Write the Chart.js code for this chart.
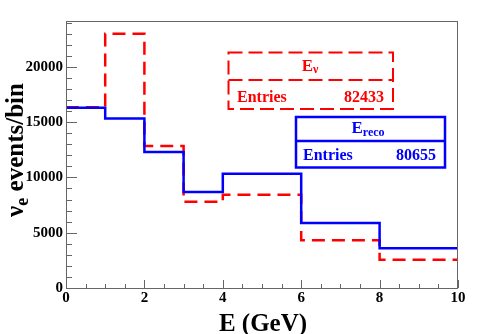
<!DOCTYPE html>
<html>
<head>
<meta charset="utf-8">
<script src="https://cdn.jsdelivr.net/npm/chart.js@4.4.0/dist/chart.umd.min.js"></script>
<style>
html,body{margin:0;padding:0;background:#fff;}
#wrap{width:490px;height:334px;}
</style>
</head>
<body>
<div id="wrap"><canvas id="c" width="490" height="334"></canvas></div>
<script>
// ---- data ----
const binEdges = [0, 1, 2, 3, 4, 6, 8, 10];
const trueEvents = [16350, 23000, 12850, 7800, 8430, 4310, 2560];   // E_nu (red dashed)
const recoEvents = [16300, 15330, 12290, 8680, 10330, 5880, 3590];  // E_reco (blue)
const xTickLabels = [0, 2, 4, 6, 8, 10];
const yTickLabels = [0, 5000, 10000, 15000, 20000];
const trueEntries = "82433";
const recoEntries = "80655";
const yMax = 24150;

function stepPoints(edges, vals) {
  return edges.map((e, i) => ({ x: e, y: vals[Math.min(i, vals.length - 1)] }));
}

const FONT = '"Liberation Serif", "Times New Roman", serif';

const overlay = {
  id: 'overlay',
  afterDraw(chart) {
    const ctx = chart.ctx;
    const a = chart.chartArea;
    const xs = chart.scales.x, ys = chart.scales.y;
    ctx.save();
    // frame
    ctx.strokeStyle = '#666';
    ctx.lineWidth = 1;
    ctx.strokeRect(a.left + 0.5, a.top + 0.5, a.right - a.left - 1, a.bottom - a.top);
    // y ticks (inward)
    ctx.beginPath();
    for (let v = 0; v <= yMax; v += 1000) {
      const y = Math.round(ys.getPixelForValue(v)) + 0.5;
      const len = (v % 5000 === 0) ? 11 : 6;
      ctx.moveTo(a.left, y); ctx.lineTo(a.left + len, y);
    }
    // x ticks (inward)
    for (let v = 0; v <= 10.001; v += 0.5) {
      const x = Math.round(xs.getPixelForValue(v)) + 0.5;
      const len = (Math.abs(v % 2) < 1e-6) ? 8 : 4;
      ctx.moveTo(x, a.bottom); ctx.lineTo(x, a.bottom - len);
    }
    ctx.stroke();

    // x title
    ctx.fillStyle = '#000';
    ctx.font = 'bold 25px ' + FONT;
    ctx.textAlign = 'center';
    ctx.textBaseline = 'alphabetic';
    ctx.fillText('E (GeV)', 263, 331);

    // y title (rotated)
    ctx.save();
    ctx.translate(23, 150);
    ctx.rotate(-Math.PI / 2);
    ctx.textAlign = 'left';
    const mainF = 'bold 25px ' + FONT, subF = 'bold 18px ' + FONT;
    ctx.font = mainF; const wNu = ctx.measureText('ν').width;
    ctx.font = subF; const wE = ctx.measureText('e').width;
    ctx.font = mainF; const wRest = ctx.measureText(' events/bin').width;
    const tot = wNu + wE + wRest;
    let px = -tot / 2;
    ctx.font = mainF; ctx.fillText('ν', px, 0); px += wNu;
    ctx.font = subF; ctx.fillText('e', px, 5); px += wE;
    ctx.font = mainF; ctx.fillText(' events/bin', px, 0);
    ctx.restore();

    // stats boxes
    function box(x1, y1, x2, y2, ydiv, color, dash, lw, sub, tx, tyBase, subDy, entries, ex1, ex2, eBase) {
      ctx.save();
      ctx.fillStyle = '#fff';
      ctx.fillRect(x1, y1, x2 - x1, y2 - y1);
      ctx.strokeStyle = color;
      ctx.lineWidth = lw;
      ctx.setLineDash(dash);
      ctx.strokeRect(x1, y1, x2 - x1, y2 - y1);
      ctx.beginPath(); ctx.moveTo(x1, ydiv); ctx.lineTo(x2, ydiv); ctx.stroke();
      ctx.setLineDash([]);
      ctx.fillStyle = color;
      const tf = 'bold 17px ' + FONT, sf = 'bold 12px ' + FONT;
      ctx.font = tf; const w1 = ctx.measureText('E').width;
      ctx.font = sf; const w2 = ctx.measureText(sub).width;
      let sx = tx - (w1 + w2) / 2;
      ctx.textAlign = 'left';
      ctx.font = tf; ctx.fillText('E', sx, tyBase);
      ctx.font = sf; ctx.fillText(sub, sx + w1, tyBase + subDy);
      ctx.font = 'bold 16px ' + FONT;
      ctx.textAlign = 'left'; ctx.fillText('Entries', ex1, eBase);
      ctx.textAlign = 'right'; ctx.fillText(entries, ex2, eBase);
      ctx.restore();
    }
    box(228.5, 52.5, 393, 109, 80, '#ff0000', [14, 6], 2, 'ν', 310, 71, 2, trueEntries, 237, 384, 102);
    box(296, 117, 445, 167.5, 141, '#0000ff', [], 2.5, 'reco', 368, 133, 3, recoEntries, 303, 436, 160);
    ctx.restore();
  }
};

new Chart(document.getElementById('c'), {
  type: 'line',
  data: {
    datasets: [
      {
        label: 'E_reco',
        data: stepPoints(binEdges, recoEvents),
        stepped: true,
        borderColor: '#0000ff',
        borderWidth: 2.5,
        pointRadius: 0,
        fill: false
      },
      {
        label: 'E_nu',
        data: stepPoints(binEdges, trueEvents),
        stepped: true,
        borderColor: '#ff0000',
        borderWidth: 2.5,
        borderDash: [13, 7],
        pointRadius: 0,
        fill: false
      }
    ]
  },
  options: {
    responsive: false,
    animation: false,
    events: [],
    layout: { padding: { top: 21, right: 32, left: 0, bottom: 0 } },
    plugins: { legend: { display: false }, tooltip: { enabled: false } },
    scales: {
      x: {
        type: 'linear', min: 0, max: 10,
        grid: { display: false, drawTicks: false },
        border: { display: false },
        afterBuildTicks: s => { s.ticks = xTickLabels.map(v => ({ value: v })); },
        afterFit: s => { s.height = 46; },
        ticks: {
          padding: 1, maxRotation: 0, autoSkip: false,
          color: '#000',
          font: { family: FONT, size: 15, weight: 'bold' },
          callback: v => String(v)
        }
      },
      y: {
        type: 'linear', min: 0, max: yMax,
        grid: { display: false, drawTicks: false },
        border: { display: false },
        afterBuildTicks: s => { s.ticks = yTickLabels.map(v => ({ value: v })); },
        afterFit: s => { s.width = 66; },
        ticks: {
          padding: 3, autoSkip: false,
          color: '#000',
          font: { family: FONT, size: 15, weight: 'bold' },
          callback: v => String(v)
        }
      }
    }
  },
  plugins: [overlay]
});
</script>
</body>
</html>
